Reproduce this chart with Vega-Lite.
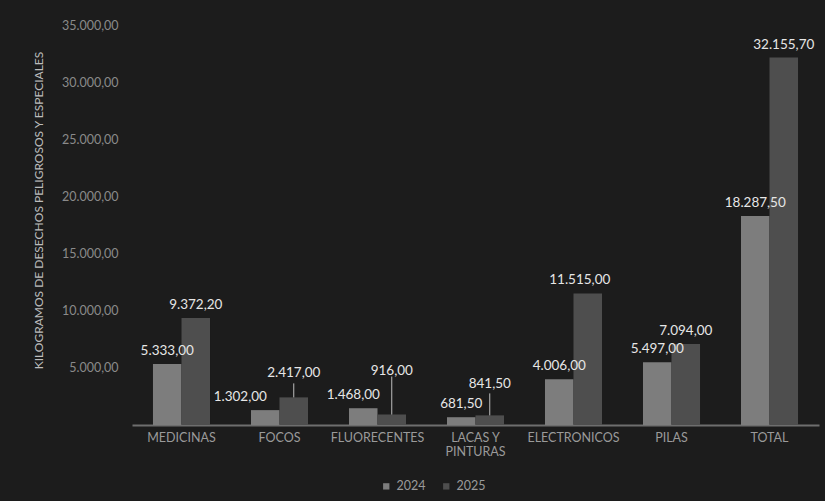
{
  "$schema": "https://vega.github.io/schema/vega-lite/v6.json",
  "width": 687,
  "height": 400,
  "autosize": "none",
  "padding": {"left": 132, "top": 25, "right": 6, "bottom": 76},
  "background": "#1c1c1c",
  "config": {
    "locale": {"number": {"decimal": ",", "thousands": ".", "grouping": [3], "currency": ["", ""]}},
    "view": {"stroke": null},
    "font": "Lato"
  },
  "data": {"values": [
    {"categoria": "MEDICINAS", "anio": "2024", "kg": 5333},
    {"categoria": "MEDICINAS", "anio": "2025", "kg": 9372.2},
    {"categoria": "FOCOS", "anio": "2024", "kg": 1302},
    {"categoria": "FOCOS", "anio": "2025", "kg": 2417},
    {"categoria": "FLUORECENTES", "anio": "2024", "kg": 1468},
    {"categoria": "FLUORECENTES", "anio": "2025", "kg": 916},
    {"categoria": "LACAS Y PINTURAS", "anio": "2024", "kg": 681.5},
    {"categoria": "LACAS Y PINTURAS", "anio": "2025", "kg": 841.5},
    {"categoria": "ELECTRONICOS", "anio": "2024", "kg": 4006},
    {"categoria": "ELECTRONICOS", "anio": "2025", "kg": 11515},
    {"categoria": "PILAS", "anio": "2024", "kg": 5497},
    {"categoria": "PILAS", "anio": "2025", "kg": 7094},
    {"categoria": "TOTAL", "anio": "2024", "kg": 18287.5},
    {"categoria": "TOTAL", "anio": "2025", "kg": 32155.7}
  ]},
  "encoding": {
    "x": {
      "field": "categoria", "type": "nominal", "sort": null,
      "scale": {"paddingInner": 0.418, "paddingOuter": 0.214},
      "axis": {
        "title": null, "labelAngle": 0, "ticks": false,
        "domainColor": "#6e6e6e", "domainWidth": 2,
        "labelColor": "#9a9a9a", "labelFontSize": 12.5, "labelPadding": 6,
        "labelExpr": "datum.label == 'LACAS Y PINTURAS' ? ['LACAS Y', 'PINTURAS'] : datum.label"
      }
    },
    "xOffset": {"field": "anio", "type": "nominal", "sort": ["2024", "2025"]},
    "y": {
      "field": "kg", "type": "quantitative",
      "scale": {"domain": [0, 35000], "nice": false},
      "axis": {
        "values": [5000, 10000, 15000, 20000, 25000, 30000, 35000],
        "format": ",.2f", "domain": false, "ticks": false, "grid": false,
        "labelColor": "#8a8a8a", "labelFontSize": 12.5, "labelPadding": 14,
        "title": "KILOGRAMOS DE DESECHOS PELIGROSOS Y ESPECIALES",
        "titleColor": "#bdbdbd", "titleFontSize": 12, "titleFontWeight": "normal",
        "titleX": -94, "titleY": 185, "titleBaseline": "middle", "titleAlign": "center"
      }
    }
  },
  "layer": [
    {
      "mark": {"type": "bar"},
      "encoding": {
        "color": {
          "field": "anio", "type": "nominal",
          "scale": {"domain": ["2024", "2025"], "range": ["#7d7d7d", "#4e4e4e"]},
          "legend": {
            "orient": "none", "legendX": 248, "legendY": 455, "direction": "horizontal",
            "title": null, "symbolType": "square", "symbolSize": 40,
            "labelColor": "#9a9a9a", "labelFontSize": 12.5, "columnPadding": 14
          }
        }
      }
    },
    {
      "transform": [{"filter": "datum.anio == '2025' && datum.kg < 3000"}],
      "mark": {
        "type": "rule", "color": "#bdbdbd", "strokeWidth": 1,
        "y2Offset": {"expr": "datum.categoria == 'FOCOS' ? -14 : datum.categoria == 'FLUORECENTES' ? -38 : -22"}
      },
      "encoding": {"y2": {"field": "kg"}}
    },
    {
      "mark": {
        "type": "text", "baseline": "middle", "color": "#e6e6e6", "fontSize": 13.5,
        "dx": {"expr": "datum.anio == '2024' && datum.categoria == 'FOCOS' ? -25 : datum.anio == '2024' && datum.categoria == 'FLUORECENTES' ? -10 : datum.anio == '2025' && datum.categoria == 'ELECTRONICOS' ? -8 : 0"},
        "dy": {"expr": "datum.anio == '2025' && datum.categoria == 'FOCOS' ? -24 : datum.anio == '2025' && datum.categoria == 'FLUORECENTES' ? -44 : datum.anio == '2025' && datum.categoria == 'LACAS Y PINTURAS' ? -31 : -13"}
      },
      "encoding": {"text": {"field": "kg", "type": "quantitative", "format": ",.2f"}}
    }
  ]
}
